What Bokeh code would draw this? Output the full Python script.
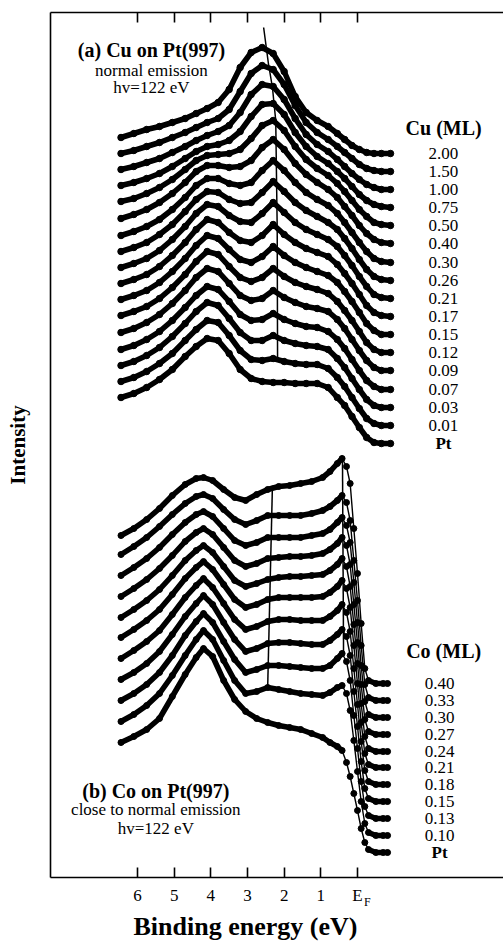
import numpy as np
from bokeh.plotting import figure
from bokeh.models import Range1d, LinearAxis, FixedTicker, Title, ColumnDataSource
from bokeh.core.properties import value
from bokeh.embed import file_html
from bokeh.resources import INLINE

SERIF = "Liberation Serif"

# ---------------- data ----------------
# binding energy grids (eV)
cu_energy = [6.45, 6.1, 5.75, 5.4, 5.05, 4.7, 4.4, 4.1, 3.8, 3.5, 3.2, 2.9, 2.6, 2.3, 2.0,
             1.7, 1.4, 1.1, 0.8, 0.55, 0.35, 0.15, -0.05, -0.25, -0.45, -0.65, -0.9]
co_energy = [6.45, 6.1, 5.75, 5.4, 5.05, 4.7, 4.4, 4.2, 3.95, 3.65, 3.35, 3.05, 2.75, 2.45,
             2.15, 1.85, 1.55, 1.25, 0.95, 0.75, 0.55, 0.42, 0.3, 0.2, 0.1, 0.0, -0.1, -0.2,
             -0.3, -0.5, -0.7, -0.82]

# (a) Cu on Pt(997): intensity above each spectrum's baseline (arb. units)
cu_2_00 = [16, 20, 24, 27, 31, 35, 40, 45, 51, 64, 86, 101, 106, 100, 82, 57, 41, 33, 27, 20, 14, 8, 4, 1, 0, 0, 0]
cu_1_50 = [18, 21, 25, 29, 34, 39, 44, 49, 53, 62, 80, 98, 106, 102, 87, 66, 49, 39, 32, 25, 19, 13, 7, 3, 1, 0, 0]
cu_1_00 = [20, 23, 27, 31, 37, 43, 49, 54, 58, 64, 77, 95, 105, 103, 90, 71, 55, 45, 38, 30, 23, 16, 10, 5, 2, 0, 0]
cu_0_75 = [22, 25, 29, 34, 41, 49, 56, 61, 63, 67, 76, 91, 103, 104, 93, 75, 61, 51, 44, 36, 29, 21, 13, 7, 3, 1, 0]
cu_0_50 = [24, 27, 32, 38, 46, 56, 65, 70, 71, 72, 76, 87, 100, 105, 95, 79, 66, 57, 50, 42, 34, 25, 16, 9, 3, 1, 0]
cu_0_40 = [25, 29, 34, 41, 50, 61, 72, 78, 78, 76, 77, 83, 96, 104, 94, 80, 69, 61, 54, 46, 37, 28, 18, 10, 4, 1, 0]
cu_0_30 = [27, 31, 36, 43, 53, 65, 77, 84, 84, 79, 77, 80, 92, 102, 92, 80, 70, 63, 57, 49, 40, 30, 20, 11, 4, 1, 0]
cu_0_26 = [29, 33, 38, 46, 56, 69, 81, 89, 88, 81, 77, 78, 88, 99, 89, 78, 70, 64, 58, 51, 42, 32, 21, 11, 4, 1, 0]
cu_0_21 = [31, 35, 40, 48, 59, 72, 85, 94, 92, 83, 77, 76, 85, 96, 86, 76, 69, 64, 59, 52, 43, 33, 22, 12, 4, 1, 0]
cu_0_17 = [33, 37, 42, 50, 61, 74, 87, 97, 94, 84, 76, 74, 81, 92, 82, 74, 68, 64, 60, 52, 43, 33, 22, 11, 4, 1, 0]
cu_0_15 = [35, 39, 44, 52, 63, 76, 89, 99, 96, 85, 75, 72, 78, 88, 79, 72, 67, 63, 59, 52, 43, 33, 22, 11, 4, 0, 0]
cu_0_12 = [37, 41, 46, 54, 65, 78, 91, 101, 98, 86, 75, 71, 75, 84, 76, 70, 66, 63, 59, 51, 42, 32, 21, 10, 3, 0, 0]
cu_0_09 = [38, 42, 48, 56, 67, 80, 93, 102, 99, 87, 75, 70, 72, 80, 73, 68, 64, 62, 59, 51, 42, 31, 20, 10, 3, 0, 0]
cu_0_07 = [40, 44, 50, 58, 69, 82, 94, 103, 100, 88, 75, 69, 70, 76, 70, 66, 63, 62, 58, 50, 41, 30, 19, 9, 3, 0, 0]
cu_0_03 = [42, 46, 52, 60, 71, 84, 96, 105, 102, 89, 75, 67, 67, 72, 67, 64, 62, 61, 58, 49, 40, 29, 18, 8, 2, 0, 0]
cu_0_01 = [44, 48, 54, 62, 72, 85, 96, 105, 103, 90, 75, 66, 65, 67, 64, 62, 61, 61, 57, 48, 39, 28, 17, 7, 2, 0, 0]
cu_pt = [46, 50, 56, 64, 74, 87, 97, 105, 103, 90, 74, 65, 62, 61, 61, 60, 60, 60, 56, 46, 38, 27, 16, 6, 1, 0, 0]

cu_labels = ["2.00", "1.50", "1.00", "0.75", "0.50", "0.40", "0.30", "0.26", "0.21",
             "0.17", "0.15", "0.12", "0.09", "0.07", "0.03", "0.01", "Pt"]
cu_offsets = [724, 706, 688, 670, 652, 634, 615, 597, 579, 561, 543, 525, 507, 488, 470, 452, 434]

# (b) Co on Pt(997)
co_0_40 = [148, 155, 164, 175, 188, 199, 205, 206, 203, 194, 186, 183, 189, 194, 197, 198, 200, 202, 206, 212, 220, 225, 217, 200, 155, 110, 60, 15, 3, 0, 0, 0]
co_0_33 = [146, 154, 163, 174, 186, 197, 204, 206, 202, 191, 181, 176, 180, 185, 185, 185, 185, 187, 190, 194, 200, 205, 198, 180, 140, 100, 55, 16, 3, 0, 0, 0]
co_0_30 = [142, 150, 159, 170, 183, 195, 203, 206, 201, 189, 177, 172, 175, 180, 180, 180, 180, 182, 184, 188, 195, 200, 192, 175, 135, 95, 52, 16, 3, 0, 0, 0]
co_0_27 = [138, 146, 155, 166, 179, 193, 202, 206, 200, 187, 174, 168, 171, 176, 177, 178, 178, 179, 181, 185, 191, 197, 189, 170, 130, 92, 50, 15, 3, 0, 0, 0]
co_0_24 = [134, 142, 151, 162, 176, 191, 201, 206, 199, 185, 171, 165, 168, 172, 174, 175, 175, 176, 177, 181, 187, 193, 185, 165, 127, 88, 48, 15, 3, 0, 0, 0]
co_0_21 = [130, 138, 147, 158, 173, 189, 200, 206, 198, 183, 168, 160, 163, 168, 170, 170, 170, 170, 171, 175, 181, 187, 179, 160, 122, 84, 45, 14, 3, 0, 0, 0]
co_0_18 = [126, 134, 143, 154, 170, 187, 199, 206, 197, 181, 165, 155, 158, 163, 165, 165, 164, 164, 164, 168, 174, 180, 172, 153, 116, 80, 43, 14, 3, 0, 0, 0]
co_0_15 = [122, 129, 138, 150, 167, 185, 198, 206, 197, 179, 162, 150, 153, 158, 159, 159, 158, 157, 157, 161, 167, 172, 165, 146, 110, 75, 40, 13, 3, 0, 0, 0]
co_0_13 = [118, 125, 134, 146, 163, 183, 197, 205, 196, 177, 159, 146, 149, 153, 153, 152, 151, 150, 150, 153, 160, 165, 157, 138, 103, 70, 37, 12, 3, 0, 0, 0]
co_0_10 = [114, 121, 130, 142, 160, 180, 196, 205, 196, 175, 155, 142, 144, 148, 146, 144, 142, 141, 140, 143, 148, 150, 142, 125, 95, 64, 34, 12, 3, 0, 0, 0]
co_pt = [110, 116, 123, 134, 156, 178, 195, 204, 196, 172, 153, 141, 134, 130, 127, 125, 123, 119, 115, 110, 106, 102, 90, 76, 59, 42, 24, 10, 3, 0, 0, 0]

co_labels = ["0.40", "0.33", "0.30", "0.27", "0.24", "0.21", "0.18", "0.15", "0.13", "0.10", "Pt"]
co_offsets = [194, 177, 160, 143, 126, 110, 93, 76, 59, 42, 25]

# guide lines through the peak positions (energy, intensity)
cu_guide_e = [2.56, 2.43, 2.32, 2.23, 2.19, 2.18]
cu_guide_y = [850, 814, 790, 757, 650, 520]
co_guide1_e = [2.32, 2.45]
co_guide1_y = [392, 190]
co_guide2_e = [0.41, 0.38]
co_guide2_y = [420, 222]

tick_values = [6, 5, 4, 3, 2, 1, 0]

cu_spectra = [cu_2_00, cu_1_50, cu_1_00, cu_0_75, cu_0_50, cu_0_40, cu_0_30, cu_0_26, cu_0_21,
              cu_0_17, cu_0_15, cu_0_12, cu_0_09, cu_0_07, cu_0_03, cu_0_01, cu_pt]
co_spectra = [co_0_40, co_0_33, co_0_30, co_0_27, co_0_24, co_0_21, co_0_18, co_0_15, co_0_13,
              co_0_10, co_pt]

# ---------------- figure ----------------
p = figure(width=503, height=946, output_backend="svg", toolbar_location=None,
           x_range=Range1d(8.373, -3.982), y_range=Range1d(0, 865),
           x_axis_location=None, y_axis_location=None,
           min_border_left=50, min_border_right=0, min_border_top=12, min_border_bottom=69)
p.grid.visible = False
p.outline_line_color = None
p.background_fill_color = "white"
p.border_fill_color = "white"


def style_axis(ax):
    ax.axis_line_width = 1.6
    ax.axis_line_color = "black"
    ax.major_tick_line_width = 1.6
    ax.major_tick_line_color = "black"
    ax.major_tick_in = 10
    ax.major_tick_out = 0
    ax.minor_tick_line_color = None
    ax.major_label_text_color = "black"
    ax.axis_label_text_color = "black"


xb = LinearAxis(ticker=FixedTicker(ticks=tick_values), major_label_overrides={0: "E"})
style_axis(xb)
xb.major_label_text_font = SERIF
xb.major_label_text_font_size = "17px"
xb.major_label_standoff = 8
p.add_layout(xb, "below")

# subscript "F" of E_F
xf = LinearAxis(ticker=FixedTicker(ticks=[-0.27]), major_label_overrides={-0.27: "F"})
xf.axis_line_color = None
xf.major_tick_line_color = None
xf.minor_tick_line_color = None
xf.major_tick_in = 0
xf.major_tick_out = 0
xf.major_label_text_color = "black"
xf.major_label_text_font = SERIF
xf.major_label_text_font_size = "12px"
xf.major_label_standoff = -13
p.add_layout(xf, "below")

p.add_layout(Title(text="Binding energy (eV)", align="left", offset=83, standoff=-3,
                   text_color="black", text_font=SERIF, text_font_size="26px",
                   text_font_style="bold"), "below")

xt = LinearAxis(ticker=FixedTicker(ticks=tick_values))
style_axis(xt)
xt.major_label_text_color = None
xt.major_label_text_font_size = "1px"
xt.major_label_standoff = 0
p.add_layout(xt, "above")

yl = LinearAxis(ticker=FixedTicker(ticks=[]), axis_label="Intensity")
style_axis(yl)
yl.major_label_standoff = 0
yl.axis_label_standoff = 21
yl.axis_label_text_font = SERIF
yl.axis_label_text_font_size = "21px"
yl.axis_label_text_font_style = "bold"
p.add_layout(yl, "left")

THICK = dict(line_color="black", line_width=5.5, line_join="round", line_cap="round")

for off, spec in zip(cu_offsets, cu_spectra):
    y = np.array(spec, dtype=float) + off
    p.line(cu_energy, y, **THICK)
    p.scatter(cu_energy, y, size=6.5, color="black")

for off, spec in zip(co_offsets, co_spectra):
    y = np.array(spec, dtype=float) + off
    # thick body, thin steep Fermi edge, thick tail
    p.line(co_energy[:22], y[:22], **THICK)
    p.line(co_energy[21:29], y[21:29], line_color="black", line_width=1.4)
    p.line(co_energy[28:], y[28:], **THICK)
    p.scatter(co_energy, y, size=6, color="black")

for ge, gy in [(cu_guide_e, cu_guide_y), (co_guide1_e, co_guide1_y), (co_guide2_e, co_guide2_y)]:
    p.line(ge, gy, line_color="black", line_width=1.5)

# series labels
cu_src = ColumnDataSource(dict(x=[-2.345] * len(cu_labels), y=cu_offsets, t=cu_labels,
                               s=["normal"] * (len(cu_labels) - 1) + ["bold"]))
p.text(x="x", y="y", text="t", source=cu_src, text_font=value(SERIF), text_font_size="17px",
       text_font_style="s", text_align="center", text_baseline="middle", text_color="black")
co_src = ColumnDataSource(dict(x=[-2.24] * len(co_labels), y=co_offsets, t=co_labels,
                               s=["normal"] * (len(co_labels) - 1) + ["bold"]))
p.text(x="x", y="y", text="t", source=co_src, text_font=value(SERIF), text_font_size="17px",
       text_font_style="s", text_align="center", text_baseline="middle", text_color="black")


def txt(x, y, t, size, bold=False):
    p.text(x=[x], y=[y], text=[t], text_font=value(SERIF), text_font_size=size,
           text_font_style="bold" if bold else "normal", text_align="center",
           text_baseline="middle", text_color="black")


txt(-2.35, 750, "Cu (ML)", "20px", True)
txt(-2.35, 227, "Co (ML)", "20px", True)
txt(5.62, 828, "(a) Cu on Pt(997)", "20px", True)
txt(5.62, 807, "normal emission", "17px")
txt(5.62, 790, "hv=122 eV", "17px")
txt(5.50, 87, "(b) Co on Pt(997)", "20px", True)
txt(5.50, 68, "close to normal emission", "17px")
txt(5.50, 49, "hv=122 eV", "17px")

open("out.html", "w").write(file_html(p, INLINE))
